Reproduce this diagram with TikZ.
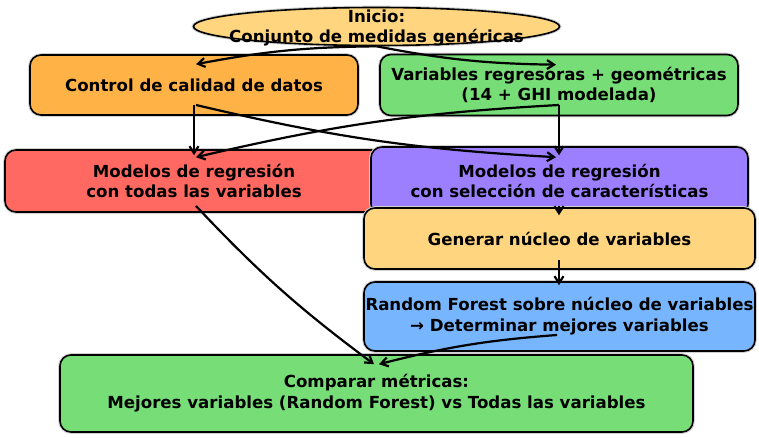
\documentclass[tikz,border=0pt]{standalone}
\usepackage{fontspec}
\setmainfont{DejaVu Sans}
\usetikzlibrary{shapes.geometric,arrows.meta,calc}
\definecolor{cEll}{HTML}{FFD580}
\definecolor{cOrange}{HTML}{FFB347}
\definecolor{cGreen}{HTML}{77DD77}
\definecolor{cRed}{HTML}{FF6961}
\definecolor{cPurple}{HTML}{9B7FFF}
\definecolor{cBlue}{HTML}{77B5FE}
\tikzset{
  box/.style={draw=black, line width=1.6pt, rounded corners=11pt, align=center,
    inner sep=0pt, font=\bfseries\fontsize{16.6}{20.7}\selectfont,
    preaction={draw=black!18, line width=3.6pt}},
  ell/.style={ellipse, draw=black, line width=1.6pt, fill=cEll, inner sep=0pt,
    preaction={draw=black!18, line width=3.6pt}},
  txt/.style={align=center, inner sep=0pt, font=\bfseries\fontsize{16.6}{20.7}\selectfont},
  arr/.style={line width=2.2pt, -{Straight Barb[length=7pt,width=9pt,line width=2.2pt]}},
  curv/.style={arr, bend right=5}
}
\begin{document}
\begin{tikzpicture}[x=1pt,y=-1pt]
\useasboundingbox[fill=white] (0,0) rectangle (759,438);
\node[ell, minimum width=366, minimum height=38,
  label={[txt, yshift=-1.5pt]center:Inicio:\\Conjunto de medidas genéricas}] (inicio) at (376.5,26.5) {};
\node[box, fill=cOrange, minimum width=328, minimum height=60] (control) at (194,85) {Control de calidad de datos};
\node[box, fill=cGreen, minimum width=358, minimum height=61] (vars) at (559,85) {Variables regresoras + geométricas\\(14 + GHI modelada)};
\node[box, fill=cRed, minimum width=378, minimum height=62] (todas) at (194,181) {Modelos de regresión\\con todas las variables};
\node[box, fill=cPurple, minimum width=377, minimum height=68] (sel) at (559.5,181) {Modelos de regresión\\con selección de características};
\node[box, fill=cEll, minimum width=391, minimum height=61] (nucleo) at (559.5,238.5) {Generar núcleo de variables};
\node[box, fill=cBlue, minimum width=391, minimum height=69] (rf) at (559.5,316.5) {Random Forest sobre núcleo de variables\\→ Determinar mejores variables};
\node[box, fill=cGreen, minimum width=633, minimum height=77] (comp) at (376.5,393.5) {Comparar métricas:\\Mejores variables (Random Forest) vs Todas las variables};

\draw[curv] (inicio.south) to ($(control.north)+(2,10)$);
\draw[curv] (inicio.south) to ($(vars.north)+(-3,11)$);
\draw[arr] ($(control.center)+(0,20)$) -- ($(todas.north)+(0,6)$);
\draw[curv] ($(control.center)+(2,20)$) to ($(sel.north)+(-3.5,11)$);
\draw[curv] ($(vars.center)+(0,20)$) to ($(todas.north)+(2,8)$);
\draw[arr] ($(vars.center)+(0,20)$) -- ($(sel.north)+(-0.5,9)$);
\draw[arr] ($(sel.center)+(-0.5,25)$) -- ($(nucleo.north)+(-0.5,8)$);
\draw[arr] ($(nucleo.center)+(-0.5,21.5)$) -- ($(rf.north)+(-0.5,4)$);
\draw[curv] ($(todas.center)+(2,25)$) to ($(comp.north)+(-2.5,10)$);
\draw[curv] ($(rf.center)+(-2.5,18.5)$) to ($(comp.north)+(2.5,10)$);
\end{tikzpicture}
\end{document}
